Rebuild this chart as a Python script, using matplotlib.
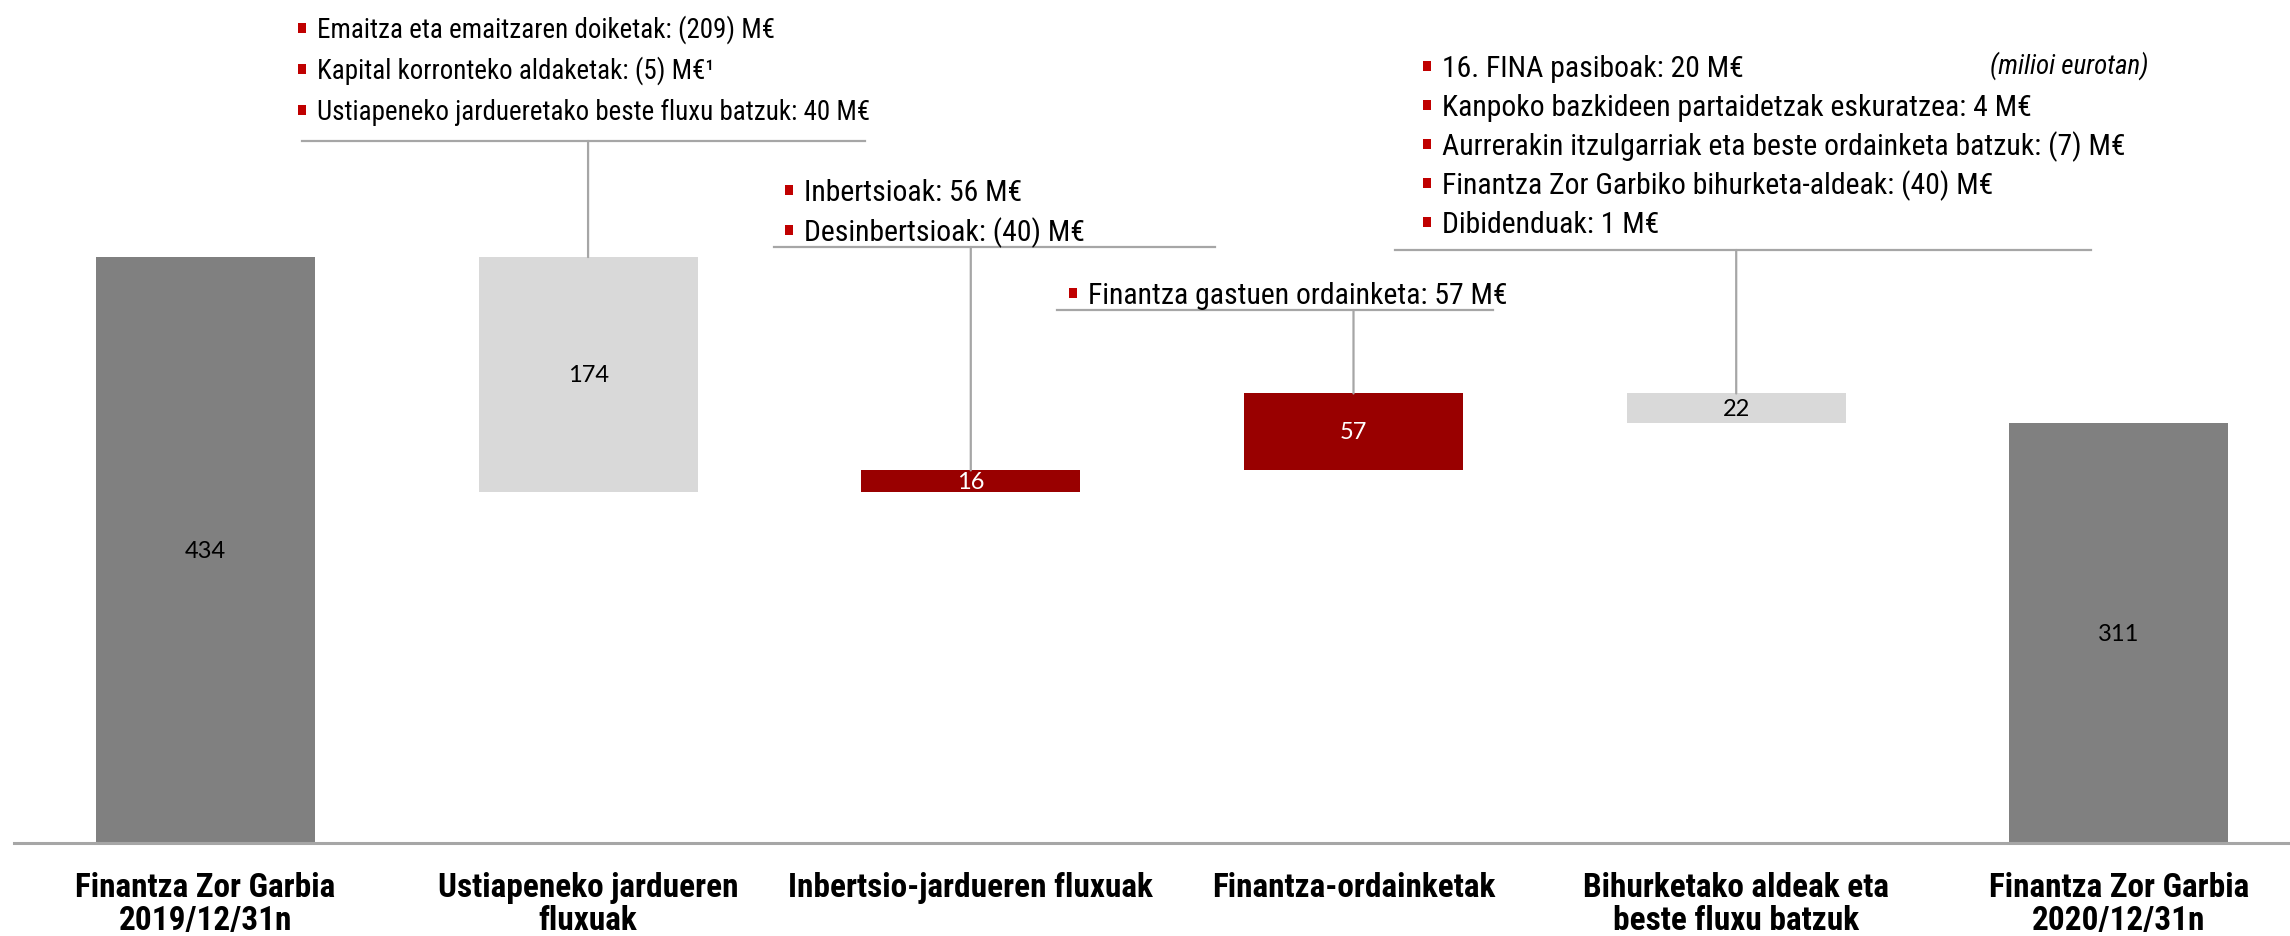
import matplotlib.pyplot as plt
from matplotlib import transforms
from matplotlib import font_manager as fm
from matplotlib.lines import Line2D
from matplotlib.patches import Rectangle, ConnectionPatch

# datuak (milioi eurotan)
categories = [["Finantza Zor Garbia", "2019/12/31n"], ["Ustiapeneko jardueren", "fluxuak"],
              ["Inbertsio-jardueren fluxuak"], ["Finantza-ordainketak"],
              ["Bihurketako aldeak eta", "beste fluxu batzuk"], ["Finantza Zor Garbia", "2020/12/31n"]]
start_value = 434
changes = [-174, 16, 57, -22]
end_value = 311
value_labels = ["434", "174", "16", "57", "22", "311"]

notes_ops = ["Emaitza eta emaitzaren doiketak: (209) M€",
             "Kapital korronteko aldaketak: (5) M€¹",
             "Ustiapeneko jardueretako beste fluxu batzuk: 40 M€"]
notes_inv = ["Inbertsioak: 56 M€", "Desinbertsioak: (40) M€"]
notes_fin = ["Finantza gastuen ordainketa: 57 M€"]
notes_other = ["16. FINA pasiboak: 20 M€",
               "Kanpoko bazkideen partaidetzak eskuratzea: 4 M€",
               "Aurrerakin itzulgarriak eta beste ordainketa batzuk: (7) M€",
               "Finantza Zor Garbiko bihurketa-aldeak: (40) M€",
               "Dibidenduak: 1 M€"]

DARK = "#808080"
LIGHT = "#D9D9D9"
RED = "#990000"
BULLET = "#C00000"
LINE = "#A6A6A6"


def narrow_font(weight="normal", style="normal"):
    # Arial Narrow antzeko letra estua bilatu, bestela Liberation Sans
    cands = [("Liberation Sans Narrow", "normal", None), ("Arial Narrow", "normal", None),
             ("Roboto Condensed", "normal", None), ("Noto Sans", "condensed", "Condensed"),
             ("Open Sans", "condensed", "Condensed"), ("DejaVu Sans", "condensed", "Condensed")]
    for fam, stretch, key in cands:
        fp = fm.FontProperties(family=fam, weight=weight, style=style, stretch=stretch)
        try:
            path = fm.findfont(fp, fallback_to_default=False)
        except ValueError:
            continue
        if key is None or key in path:
            return fm.FontProperties(fname=path, size=12)
    return fm.FontProperties(family="Liberation Sans", weight=weight, style=style)


F_REG = narrow_font()
F_BOLD = narrow_font(weight="bold")
F_IT = narrow_font(style="italic")

W, H = 2290, 937
fig = plt.figure(figsize=(W / 100, H / 100), dpi=100)
ax = fig.add_axes([14 / W, 93 / H, 1 - 14 / W, 844 / H])
renderer = fig.canvas.get_renderer()


def fit_size(fp, text, target_px):
    t = fig.text(0, 0, text, fontproperties=fp, fontsize=20)
    w = t.get_window_extent(renderer).width
    t.remove()
    return 20 * target_px / w


size_g1 = fit_size(F_REG, notes_ops[2], 552)
size_note = fit_size(F_REG, notes_other[2], 683)
size_cat = fit_size(F_BOLD, "Inbertsio-jardueren fluxuak", 364)
size_it = fit_size(F_IT, "(milioi eurotan)", 172) * 0.92

# ur-jauziaren barrak
bottoms, heights, colors = [0], [start_value], [DARK]
level = start_value
for c in changes:
    bottoms.append(min(level, level + c))
    heights.append(abs(c))
    colors.append(RED if c > 0 else LIGHT)
    level += c
bottoms.append(0)
heights.append(end_value)
colors.append(DARK)

x = list(range(len(categories)))
ax.bar(x, heights, bottom=bottoms, width=0.572, color=colors, edgecolor="none", zorder=2)

for i in x:
    txt_color = "white" if colors[i] == RED else "black"
    ax.text(i, bottoms[i] + heights[i] / 2, value_labels[i], ha="center", va="center",
            fontsize=17, family="Lato", color=txt_color, zorder=3)

ax.set_xlim(-0.5, 5.447)
ax.set_ylim(0, 625.2)
for s in ["top", "right", "left"]:
    ax.spines[s].set_visible(False)
ax.spines["bottom"].set_color(LINE)
ax.spines["bottom"].set_linewidth(2.2)
ax.set_yticks([])
ax.set_xticks([])

# pixel koordenatuak goitik behera
px = transforms.Affine2D().scale(1 / W, -1 / H).translate(0, 1) + fig.transFigure
blend = transforms.blended_transform_factory(ax.transData, px)

# kategoria etiketak (lerroz lerro)
for i, lines in enumerate(categories):
    for k, line in enumerate(lines):
        ax.text(i, 897 + k * 33, line, transform=blend, ha="center", va="baseline",
                fontproperties=F_BOLD, fontsize=size_cat)

# ohar-blokeak
blocks = [
    (1, notes_ops, size_g1, 302, 31, 41, 142, 302, 865),
    (2, notes_inv, size_note, 789, 193, 40, 248, 774, 1215),
    (3, notes_fin, size_note, 1073, 296, 40, 311, 1057, 1493),
    (4, notes_other, size_note, 1427, 69, 39, 251, 1395, 2091),
]
for idx, lines, fs, bx, y0, step, by, lx0, lx1 in blocks:
    for k, line in enumerate(lines):
        yy = y0 + k * step
        fig.add_artist(Rectangle((bx - 4, yy - 7), 8, 10, transform=px,
                                 color=BULLET, lw=0))
        fig.text(bx + 15, yy + fs * 0.36, line, transform=px, ha="left", va="baseline",
                 fontproperties=F_REG, fontsize=fs, color="black")
    fig.add_artist(Line2D([lx0, lx1], [by, by], transform=px, color=LINE, lw=1.6))
    top = bottoms[idx] + heights[idx]
    fig.add_artist(ConnectionPatch(xyA=(idx, top), coordsA=ax.transData,
                                   xyB=(idx, by), coordsB=blend,
                                   color=LINE, lw=1.6))

fig.text(2148, 74, "(milioi eurotan)", transform=px, ha="right", va="baseline",
         fontproperties=F_IT, fontsize=size_it, color="black")

fig.savefig("out.png", dpi=100, facecolor="white")
